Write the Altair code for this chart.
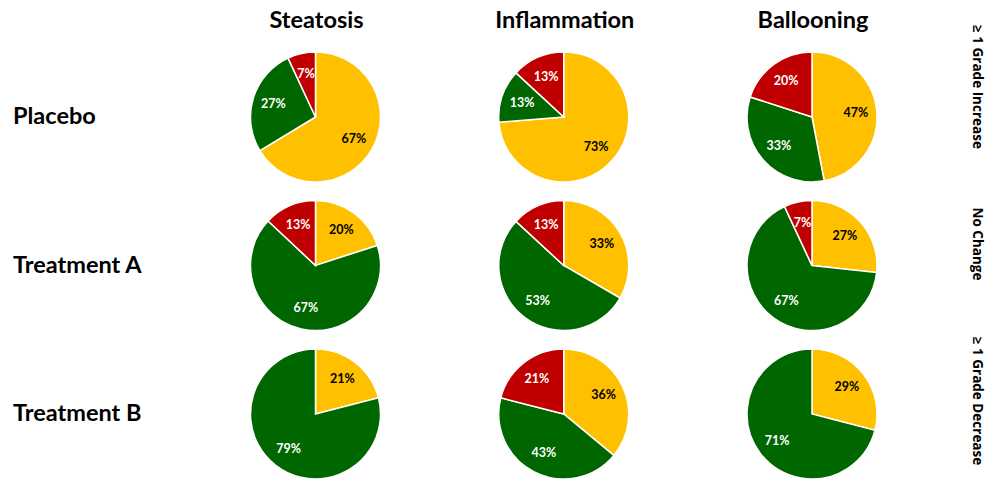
import altair as alt
import pandas as pd

columns = ["Steatosis", "Inflammation", "Ballooning"]
rows = ["Placebo", "Treatment A", "Treatment B"]
categories = ["No Change", "≥ 1 Grade Decrease", "≥ 1 Grade Increase"]
colors = ["#FFC000", "#006600", "#C00000"]
legend_order = ["≥ 1 Grade Increase", "No Change", "≥ 1 Grade Decrease"]

# values per column: [No Change, Decrease, Increase]
placebo = [[67, 27, 7], [73, 13, 13], [47, 33, 20]]
treatment_a = [[20, 67, 13], [33, 53, 13], [27, 67, 7]]
treatment_b = [[21, 79, 0], [36, 43, 21], [29, 71, 0]]
values = [placebo, treatment_a, treatment_b]

records = []
for r, row in enumerate(rows):
    for c, col in enumerate(columns):
        for k, cat in enumerate(categories):
            records.append({"row": row, "col": col, "cat": cat, "order": k,
                            "value": values[r][c][k]})
df = pd.DataFrame(records)

FONT = "Lato"
xscale = alt.Scale(type="point", domain=columns, range=[307.5, 804], padding=0)
yscale = alt.Scale(type="point", domain=rows, range=[109, 406], padding=0)
tscale = alt.Scale(domain=[0, 1], range=[0, 6.283185307179586])

base = alt.Chart(df).transform_filter(
    alt.datum.value > 0
).transform_joinaggregate(
    total="sum(value)", groupby=["row", "col"]
).transform_window(
    cum="sum(value)", sort=[alt.SortField("order")], groupby=["row", "col"],
    frame=[None, 0]
).transform_calculate(
    t_end="datum.cum / datum.total",
    t_start="(datum.cum - datum.value) / datum.total",
    t_mid="(2 * datum.cum - datum.value) / (2 * datum.total)",
    label="datum.value + '%'",
)

arcs = base.mark_arc(outerRadius=65, stroke="white", strokeWidth=1.5).encode(
    x=alt.X("col:N", scale=xscale, axis=None),
    y=alt.Y("row:N", scale=yscale, axis=None),
    theta=alt.Theta("t_start:Q", scale=tscale),
    theta2="t_end:Q",
    color=alt.Color("cat:N", scale=alt.Scale(domain=categories, range=colors), legend=None),
)

labels = base.mark_text(radius=44, font=FONT, fontSize=12.5, fontWeight="bold",
                        align="center", baseline="middle").encode(
    x=alt.X("col:N", scale=xscale, axis=None),
    y=alt.Y("row:N", scale=yscale, axis=None),
    theta=alt.Theta("t_mid:Q", scale=tscale),
    text="label:N",
    color=alt.condition(alt.datum.cat == "No Change", alt.value("black"), alt.value("white")),
)

col_titles = alt.Chart(pd.DataFrame({"col": columns})).mark_text(
    font=FONT, fontSize=23.5, fontWeight="bold", baseline="middle", align="center", dx=1
).encode(
    x=alt.X("col:N", scale=xscale, axis=None),
    y=alt.value(13),
    text="col:N",
)

row_titles = alt.Chart(pd.DataFrame({"row": rows})).mark_text(
    font=FONT, fontSize=23.5, fontWeight="bold", baseline="middle", align="left"
).encode(
    x=alt.value(5),
    y=alt.Y("row:N", scale=yscale, axis=None),
    text="row:N",
)

legend_text = alt.Chart(pd.DataFrame({"leg": legend_order})).mark_text(
    font="Open Sans", fontSize=13.5, fontWeight="bold", baseline="middle", align="center", angle=90
).encode(
    x=alt.value(969),
    y=alt.Y("leg:N", scale=alt.Scale(type="point", domain=legend_order,
                                     range=[79, 393], padding=0), axis=None),
    text="leg:N",
)

chart = alt.layer(arcs, labels, col_titles, row_titles, legend_text).resolve_scale(
    y="independent"
).properties(
    width=977, height=467, padding=0
).configure_view(stroke=None)

chart.save("out.html", embed_options={"renderer": "svg", "actions": False})
